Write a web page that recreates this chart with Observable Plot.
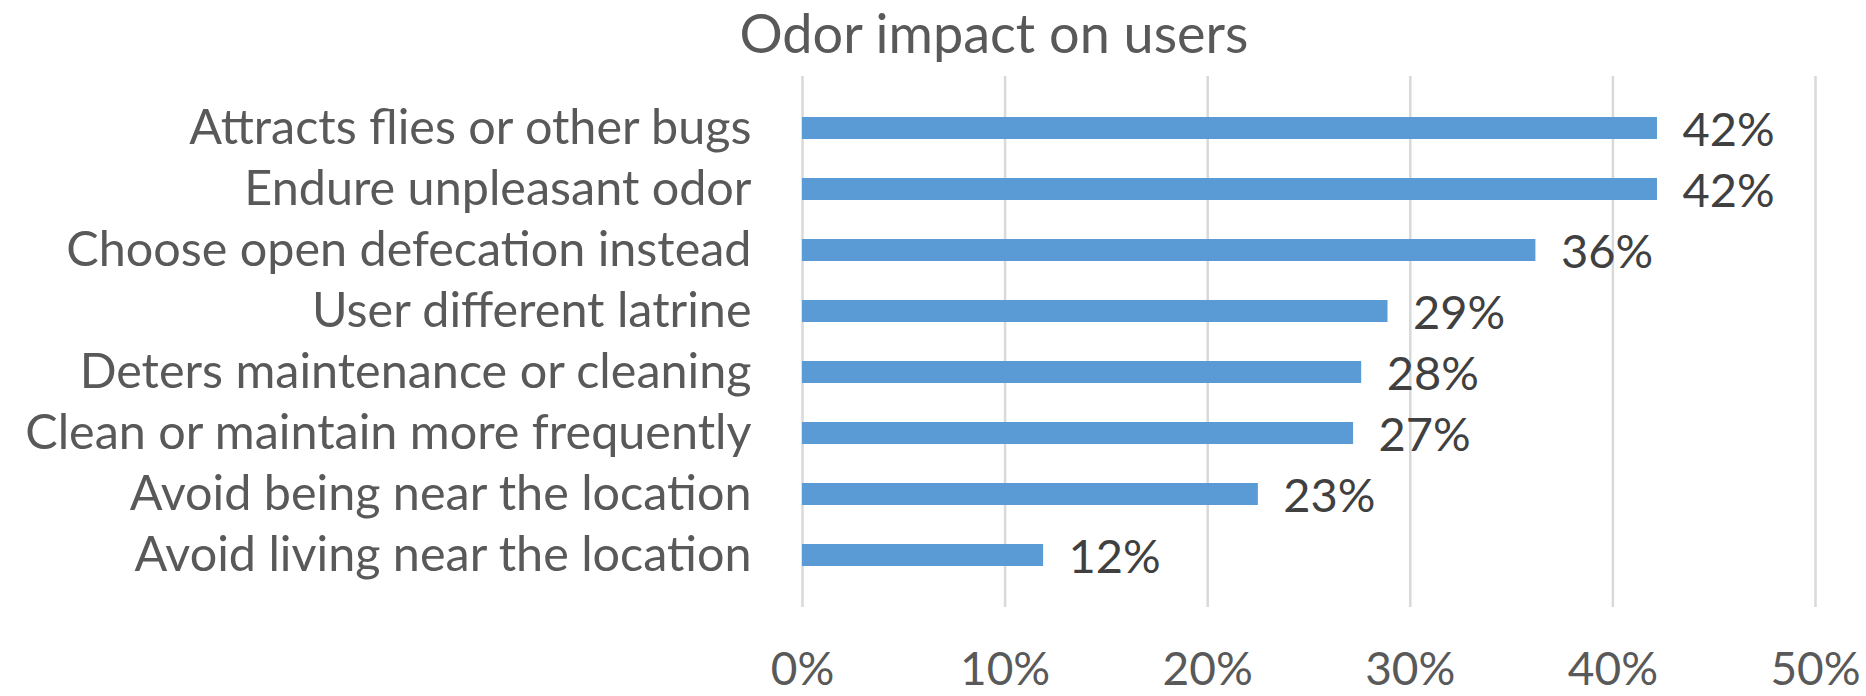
<!DOCTYPE html>
<html>
<head>
<meta charset="utf-8">
<script src="https://cdn.jsdelivr.net/npm/d3@7"></script>
<script src="https://cdn.jsdelivr.net/npm/@observablehq/plot@0.6"></script>
<style>
  html, body { margin: 0; padding: 0; background: #fff; }
  #wrap { position: relative; width: 1866px; height: 696px; }
  #title { position: relative; height: 62px; font-family: Lato, sans-serif; font-size: 54px; color: #595959; white-space: nowrap; }
  #title span { position: absolute; top: 1px; left: 994px; line-height: 1.2; transform: translateX(-50%); }
</style>
</head>
<body>
<div id="wrap">
  <div id="title"><span>Odor impact on users</span></div>
  <div id="chart"></div>
</div>
<script>
const categories = [
  "Attracts flies or other bugs",
  "Endure unpleasant odor",
  "Choose open defecation instead",
  "User different latrine",
  "Deters maintenance or cleaning",
  "Clean or maintain more frequently",
  "Avoid being near the location",
  "Avoid living near the location"
];
const values = [0.422, 0.422, 0.362, 0.289, 0.276, 0.272, 0.225, 0.119];
const xTicks = [0, 0.1, 0.2, 0.3, 0.4, 0.5];

const data = categories.map((c, i) => ({category: c, value: values[i]}));
const pct = d3.format(".0%");

const chart = Plot.plot({
  width: 1866,
  height: 634,
  marginLeft: 802,
  marginRight: 51,
  marginTop: 14,
  marginBottom: 89,
  style: {fontFamily: "Lato, sans-serif", fontSize: "47px", color: "#595959", background: "white"},
  x: {domain: [0, 0.5], ticks: xTicks, tickFormat: pct, label: null},
  y: {domain: categories, padding: 0.64, label: null},
  marks: [
    Plot.gridX(xTicks, {stroke: "#d9d9d9", strokeOpacity: 1, strokeWidth: 2.5}),
    Plot.barX(data, {x: "value", y: "category", fill: "#5b9bd5"}),
    Plot.text(data, {x: "value", y: "category", text: d => pct(d.value), textAnchor: "start", dx: 25, dy: 2, fill: "#404040", fontSize: 47}),
    Plot.axisX({ticks: xTicks, tickFormat: pct, tickSize: 0, tickPadding: 45, label: null, fill: "#595959", fontSize: 46}),
    Plot.axisY({tickSize: 0, tickPadding: 51, label: null, fill: "#595959", fontSize: 48.5})
  ]
});
document.getElementById("chart").appendChild(chart);
</script>
</body>
</html>
